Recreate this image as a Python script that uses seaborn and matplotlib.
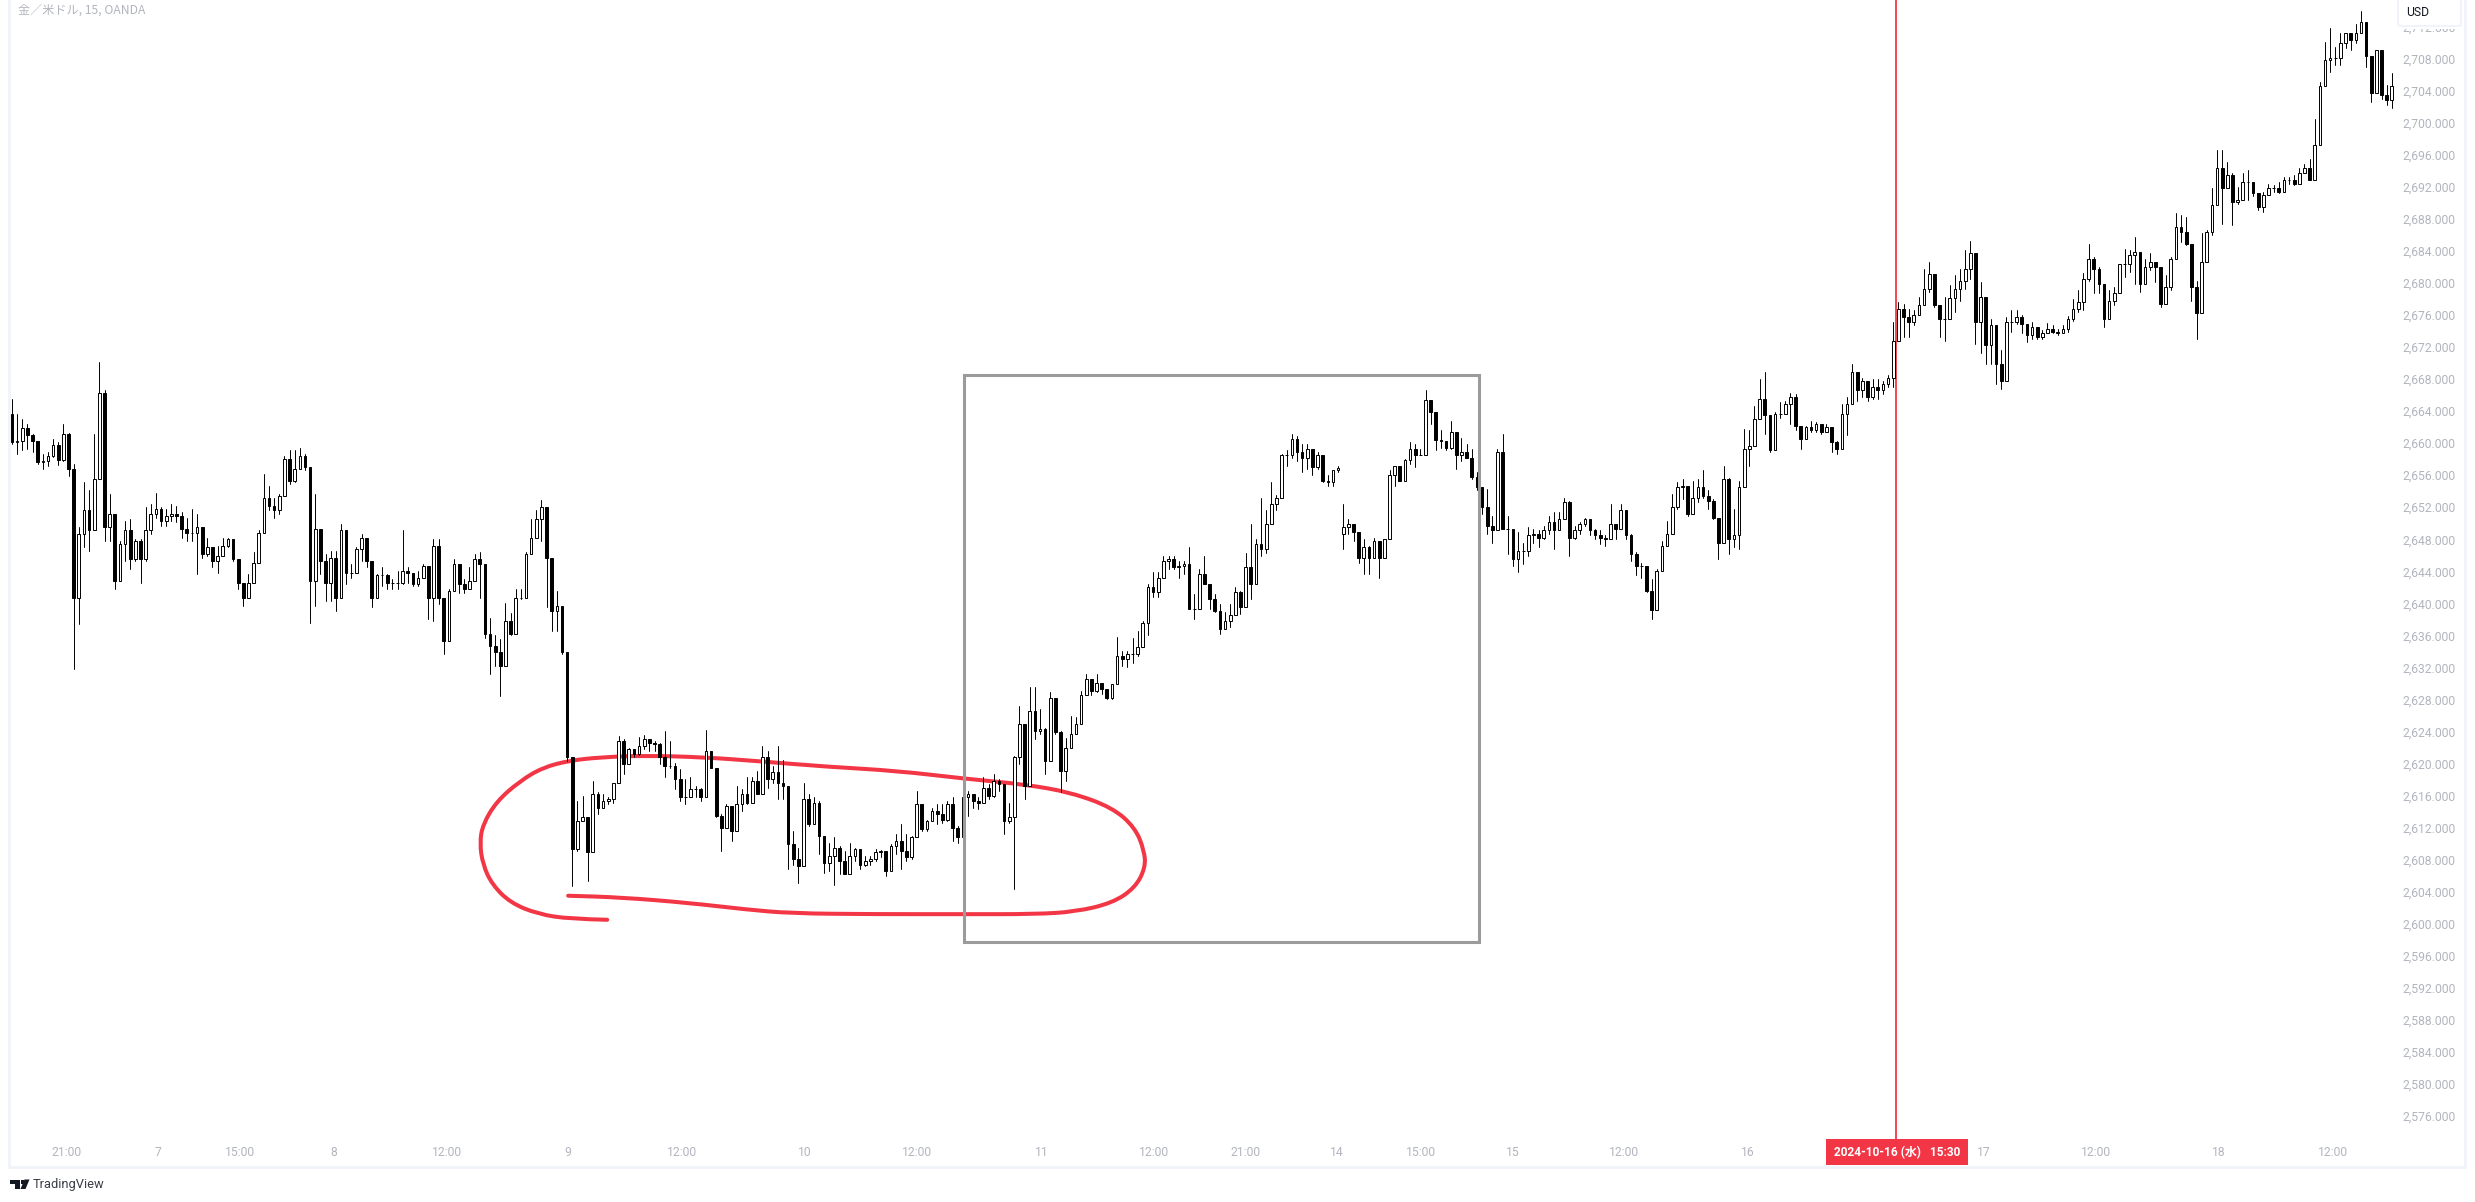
import numpy as np
import pandas as pd
import seaborn as sns
import matplotlib
matplotlib.use("Agg")
import matplotlib.pyplot as plt
from matplotlib.lines import Line2D
from matplotlib.patches import Rectangle, PathPatch, FancyBboxPatch, Polygon
from matplotlib.path import Path

# XAU/USD, sampled every 30 minutes. First session, Oct 6 to Oct 14.
first_open_week1 = 2663.7
close_week1 = [
    2660.1,2660.3,2661.9,2661.0,2660.3,2657.6,2657.8,2658.4,2659.8,2657.9,
    2661.2,2656.8,2640.7,2648.7,2651.6,2649.1,2655.5,2666.3,2649.5,2651.2,
    2642.8,2647.4,2649.1,2645.5,2647.8,2645.5,2649.1,2651.2,2651.8,2650.3,
    2650.9,2651.2,2650.9,2649.3,2648.8,2648.8,2649.5,2646.2,2647.0,2645.3,
    2645.9,2647.2,2648.0,2645.5,2642.6,2640.7,2642.6,2645.1,2648.8,2653.2,
    2652.2,2651.6,2653.4,2658.0,2655.3,2656.8,2658.4,2657.0,2642.8,2649.3,
    2645.3,2642.6,2645.7,2640.7,2649.1,2643.8,2643.8,2646.8,2648.2,2645.3,
    2640.7,2643.5,2643.5,2642.6,2642.6,2642.6,2644.1,2643.8,2642.4,2643.2,
    2644.7,2640.7,2647.2,2640.7,2635.3,2641.6,2644.9,2642.4,2641.8,2642.8,
    2645.5,2644.9,2636.2,2634.7,2633.9,2632.2,2637.8,2636.2,2640.7,2640.7,
    2646.2,2648.2,2650.5,2652.0,2645.7,2639.1,2639.7,2633.9,2620.8,2609.3,
    2612.8,2613.3,2608.9,2616.2,2614.5,2615.3,2615.6,2617.6,2622.8,2619.9,
    2621.8,2621.2,2622.2,2623.1,2622.6,2622.4,2620.8,2619.7,2619.7,2618.1,
    2615.8,2615.8,2616.8,2616.8,2615.8,2621.6,2619.5,2613.5,2612.0,2614.7,
    2611.6,2614.9,2616.2,2615.1,2617.8,2616.2,2620.8,2618.1,2618.9,2617.6,
    2617.2,2609.9,2608.1,2607.2,2615.6,2612.4,2615.1,2611.0,2607.6,2608.5,
    2609.5,2607.8,2606.2,2608.5,2609.3,2607.4,2607.8,2608.1,2608.9,2609.1,
    2606.6,2609.7,2610.3,2609.1,2608.3,2610.8,2614.9,2611.8,2612.8,2614.1,
    2613.7,2613.0,2614.9,2612.0,2610.8,2615.8,2616.2,2615.3,2615.1,2617.0,
    2616.0,2617.8,2617.4,2612.8,2613.3,2620.8,2624.9,2617.2,2626.6,2624.1,
    2624.3,2620.3,2628.2,2623.9,2619.1,2621.9,2623.7,2624.9,2628.5,2630.5,
    2629.1,2630.1,2629.3,2628.2,2629.9,2633.4,2633.0,2633.7,2633.7,2634.5,
    2637.6,2642.0,2641.4,2643.2,2645.3,2645.5,2644.5,2644.7,2644.9,2639.3,
    2639.3,2643.7,2642.4,2640.5,2639.1,2636.8,2637.8,2638.6,2641.4,2639.5,
    2644.6,2642.4,2647.4,2646.8,2649.9,2652.4,2653.2,2658.5,2658.5,2660.5,
    2658.9,2658.2,2659.3,2657.0,2658.5,2655.3,2655.1,2656.6,2656.9,
]
high_week1 = [
    2665.5,2663.7,2663.0,2662.4,2661.2,2660.1,2658.7,2658.9,2660.5,2660.1,
    2662.4,2661.3,2657.4,2649.5,2655.1,2654.1,2661.2,2670.1,2666.6,2653.7,
    2651.2,2647.8,2650.3,2650.5,2648.0,2648.0,2652.0,2652.4,2653.8,2652.0,
    2651.8,2652.4,2652.2,2651.4,2650.7,2651.8,2651.2,2648.2,2648.2,2646.6,
    2647.2,2648.2,2648.2,2647.8,2645.3,2642.6,2643.7,2646.4,2649.1,2656.1,
    2654.7,2653.2,2653.7,2658.4,2659.1,2659.1,2659.4,2658.7,2657.0,2653.7,
    2648.7,2646.2,2646.6,2646.6,2649.9,2646.6,2644.9,2647.0,2648.7,2647.8,
    2644.9,2643.7,2644.5,2643.7,2643.0,2644.1,2649.1,2644.5,2643.7,2644.1,
    2644.9,2643.7,2648.0,2648.0,2637.8,2641.8,2645.5,2643.7,2643.0,2644.5,
    2646.2,2646.4,2638.2,2638.2,2636.0,2635.5,2640.1,2638.8,2641.8,2641.8,
    2646.4,2650.5,2651.6,2652.9,2648.8,2642.8,2641.6,2639.7,2628.1,2620.8,
    2615.3,2616.0,2611.0,2617.8,2616.4,2616.2,2615.8,2617.6,2623.5,2623.1,
    2622.0,2621.8,2623.3,2623.6,2622.9,2622.8,2622.6,2624.1,2622.8,2620.1,
    2619.3,2618.1,2618.3,2617.2,2617.0,2624.2,2621.6,2617.2,2613.7,2614.9,
    2613.7,2617.2,2616.8,2618.3,2618.3,2619.1,2622.2,2621.6,2619.7,2622.2,
    2620.5,2615.8,2611.6,2609.5,2617.6,2616.2,2615.8,2615.3,2609.7,2610.1,
    2610.8,2609.7,2609.1,2610.1,2609.5,2608.1,2608.5,2608.5,2609.3,2609.2,
    2608.7,2609.9,2611.2,2612.4,2611.2,2611.0,2616.6,2614.5,2613.0,2614.5,
    2614.9,2614.9,2615.3,2615.8,2612.2,2616.8,2616.6,2616.2,2615.8,2618.3,
    2617.4,2618.7,2618.1,2617.4,2615.1,2621.0,2627.2,2623.1,2629.5,2629.5,
    2626.8,2624.5,2628.9,2627.2,2624.1,2623.2,2626.0,2625.8,2629.1,2631.2,
    2630.3,2631.2,2629.9,2628.9,2629.9,2635.8,2634.1,2634.1,2635.7,2636.6,
    2637.8,2642.4,2643.9,2643.9,2645.9,2645.9,2645.9,2645.3,2645.3,2647.0,
    2641.2,2644.3,2645.9,2641.6,2641.2,2639.9,2638.9,2639.9,2642.0,2641.6,
    2646.3,2649.9,2648.0,2653.2,2651.6,2655.1,2653.5,2658.7,2659.1,2661.2,
    2660.9,2659.9,2659.9,2657.8,2658.9,2657.0,2656.0,2656.6,2657.2,
]
low_week1 = [
    2659.9,2658.7,2659.1,2659.3,2658.9,2657.4,2656.8,2657.1,2658.3,2657.3,
    2657.8,2655.9,2631.8,2637.4,2647.0,2646.6,2649.1,2655.5,2647.8,2647.8,
    2641.8,2642.8,2645.3,2644.3,2645.3,2642.6,2645.3,2648.7,2650.7,2649.7,
    2649.7,2650.3,2650.1,2648.2,2647.8,2647.8,2643.7,2645.7,2645.9,2644.5,
    2643.8,2646.6,2647.0,2645.3,2641.8,2639.7,2640.9,2642.6,2645.1,2648.8,
    2651.6,2650.7,2651.2,2653.4,2654.9,2655.1,2656.8,2656.6,2637.6,2639.7,
    2643.7,2640.3,2640.3,2639.1,2640.7,2642.4,2643.2,2644.1,2645.3,2644.5,
    2639.5,2640.7,2642.2,2641.8,2641.8,2641.8,2642.4,2642.6,2642.2,2642.2,
    2643.5,2638.0,2637.8,2639.9,2633.7,2635.3,2641.6,2641.3,2641.3,2642.2,
    2642.8,2640.7,2635.7,2631.2,2632.2,2628.4,2635.5,2636.0,2637.4,2640.5,
    2641.8,2646.2,2648.2,2647.8,2639.5,2636.6,2636.6,2633.7,2620.3,2604.7,
    2609.1,2612.8,2605.3,2612.8,2613.7,2614.5,2614.9,2615.1,2618.3,2618.7,
    2619.9,2620.8,2621.1,2621.8,2621.6,2621.6,2619.9,2618.3,2619.5,2616.8,
    2615.3,2614.9,2615.8,2615.8,2615.3,2615.8,2619.4,2613.3,2609.1,2612.0,
    2610.3,2611.6,2614.1,2614.9,2616.2,2616.2,2616.2,2617.0,2617.6,2615.6,
    2615.6,2606.8,2607.4,2605.1,2609.5,2612.2,2614.1,2608.7,2606.4,2606.6,
    2604.9,2606.2,2606.2,2607.6,2607.8,2606.8,2607.2,2607.4,2607.8,2608.3,
    2606.0,2607.4,2608.7,2606.8,2607.8,2608.1,2610.8,2611.6,2611.6,2612.8,
    2612.4,2612.6,2612.8,2610.3,2610.1,2610.8,2613.5,2614.5,2614.3,2615.3,
    2615.6,2615.8,2616.6,2611.2,2612.6,2604.3,2619.9,2615.6,2617.2,2623.1,
    2623.7,2618.7,2620.3,2623.7,2616.4,2617.8,2622.4,2623.7,2624.9,2628.7,
    2628.5,2628.9,2628.7,2628.0,2628.0,2632.0,2632.2,2632.0,2632.6,2633.4,
    2635.1,2636.0,2640.8,2640.8,2643.2,2644.3,2644.3,2643.2,2643.7,2639.3,
    2638.0,2640.5,2642.4,2639.3,2638.9,2636.2,2636.8,2637.0,2639.3,2638.7,
    2640.3,2640.5,2643.0,2645.9,2646.3,2650.9,2651.6,2656.4,2657.2,2658.2,
    2657.8,2656.4,2656.8,2656.0,2656.8,2655.1,2654.7,2654.7,2656.4,
]

# Second session, Oct 14 to Oct 18.
first_open_week2 = 2648.7
close_week2 = [
    2649.5,2649.9,2648.9,2645.7,2647.0,2645.7,2647.8,2645.7,2648.0,2656.0,
    2657.1,2655.3,2657.9,2659.3,2658.5,2658.5,2665.4,2663.9,2660.4,2660.3,
    2659.4,2661.4,2658.5,2658.9,2658.2,2655.8,2654.5,2652.0,2649.7,2649.1,
    2658.9,2649.3,2649.3,2645.5,2646.6,2646.6,2648.5,2648.7,2648.2,2649.1,
    2650.1,2649.1,2650.5,2652.6,2648.2,2649.1,2649.9,2650.5,2649.1,2648.5,
    2648.2,2648.0,2649.9,2649.3,2651.6,2648.5,2646.2,2644.7,2644.7,2641.6,
    2639.2,2644.1,2647.2,2648.7,2652.0,2654.5,2654.7,2651.2,2653.2,2654.5,
    2653.4,2652.8,2650.7,2647.5,2655.5,2648.0,2648.5,2654.5,2659.3,2659.7,
    2663.0,2665.5,2663.5,2659.1,2663.7,2663.7,2664.9,2665.8,2662.2,2660.5,
    2662.0,2661.6,2662.4,2661.4,2662.0,2660.1,2659.3,2663.7,2664.9,2668.9,
    2666.6,2667.8,2665.8,2667.0,2666.6,2667.4,2668.2,2672.8,2676.8,2675.8,
    2675.1,2676.0,2677.2,2679.3,2681.1,2677.2,2675.5,2675.5,2678.1,2679.3,
    2680.3,2681.8,2683.7,2675.1,2678.3,2672.2,2674.7,2669.9,2667.8,2675.1,
    2675.1,2675.7,2674.9,2673.5,2674.5,2673.2,2673.7,2674.3,2673.9,2673.7,
    2674.3,2675.5,2676.8,2677.6,2680.5,2683.0,2681.8,2679.9,2675.5,2677.8,
    2678.7,2682.4,2682.4,2683.5,2683.9,2679.9,2682.0,2682.6,2682.0,2677.4,
    2679.5,2683.0,2687.0,2686.4,2684.9,2679.5,2676.2,2682.6,2686.4,2689.7,
    2694.3,2691.8,2693.5,2690.1,2690.3,2692.6,2692.6,2691.2,2689.5,2691.0,
    2691.8,2691.8,2691.4,2692.8,2692.8,2692.4,2693.7,2694.3,2692.8,2697.2,
    2704.6,2707.8,2708.1,2708.1,2709.9,2711.2,2710.3,2711.2,2712.6,2708.3,
    2703.7,2709.1,2703.5,2702.8,2704.6,
]
high_week2 = [
    2652.4,2650.5,2649.9,2648.2,2648.0,2647.2,2648.2,2647.8,2648.0,2656.6,
    2657.2,2656.4,2658.0,2660.1,2659.9,2659.3,2666.6,2665.1,2662.8,2661.6,
    2660.3,2662.8,2659.7,2660.7,2659.9,2659.3,2656.4,2654.3,2654.3,2650.9,
    2659.3,2661.1,2650.9,2649.1,2648.9,2647.6,2649.5,2649.3,2649.1,2649.7,
    2650.9,2651.4,2651.4,2653.2,2652.8,2649.7,2650.1,2650.7,2650.3,2649.3,
    2649.1,2648.5,2652.4,2649.9,2652.4,2651.6,2648.7,2646.4,2645.1,2644.3,
    2643.0,2644.3,2647.8,2650.3,2653.7,2655.1,2655.5,2654.1,2655.3,2655.5,
    2656.6,2654.1,2653.0,2650.3,2657.2,2655.7,2651.8,2655.3,2661.8,2661.6,
    2664.7,2668.0,2668.9,2661.6,2663.9,2665.1,2665.3,2666.3,2666.2,2662.2,
    2662.2,2662.8,2662.6,2662.2,2662.4,2662.0,2660.3,2664.9,2665.8,2669.9,
    2668.9,2668.2,2667.6,2668.0,2668.0,2667.8,2668.5,2675.1,2677.6,2677.4,
    2676.8,2676.6,2678.3,2681.8,2682.6,2680.1,2675.8,2678.3,2679.7,2681.0,
    2681.8,2684.1,2685.3,2681.0,2680.1,2675.1,2675.5,2672.4,2671.6,2675.7,
    2676.6,2676.6,2676.0,2674.9,2675.1,2674.1,2674.1,2675.0,2674.7,2674.3,
    2674.7,2675.9,2678.0,2679.1,2681.2,2684.9,2683.2,2682.0,2679.1,2679.1,
    2679.5,2682.4,2684.3,2684.1,2685.7,2683.2,2683.0,2683.7,2682.6,2680.7,
    2681.0,2683.2,2688.7,2688.5,2688.2,2684.9,2680.3,2686.2,2686.6,2691.8,
    2696.6,2696.6,2695.1,2693.7,2692.0,2693.7,2694.1,2691.8,2691.2,2691.4,
    2692.4,2692.2,2692.6,2693.2,2693.2,2693.5,2694.3,2694.9,2695.5,2700.5,
    2705.1,2710.1,2711.8,2709.5,2711.2,2711.2,2711.0,2712.3,2713.9,2711.4,
    2708.3,2709.1,2706.4,2704.7,2706.2,
]
low_week2 = [
    2646.8,2648.7,2647.8,2645.1,2643.7,2643.7,2645.7,2643.2,2645.7,2652.4,
    2654.7,2655.3,2656.2,2657.4,2657.0,2658.5,2658.5,2662.4,2659.1,2659.4,
    2659.1,2659.3,2656.8,2657.8,2658.1,2655.5,2654.1,2651.2,2648.7,2647.6,
    2652.6,2649.3,2646.2,2644.7,2643.9,2644.9,2645.9,2647.6,2647.0,2648.0,
    2648.7,2646.8,2649.9,2650.9,2645.9,2648.0,2648.7,2649.7,2648.5,2648.0,
    2647.4,2647.2,2648.0,2648.0,2649.7,2648.0,2645.3,2643.5,2643.2,2641.4,
    2638.0,2641.6,2644.9,2647.8,2649.3,2651.8,2653.0,2650.9,2652.8,2652.6,
    2653.2,2651.8,2650.5,2645.5,2647.5,2646.2,2647.0,2646.8,2657.0,2657.2,
    2661.1,2664.9,2661.1,2658.9,2660.3,2663.2,2663.9,2662.4,2661.6,2659.3,
    2660.8,2661.4,2661.4,2661.2,2661.4,2658.9,2658.7,2659.9,2661.0,2665.3,
    2665.3,2665.8,2665.3,2665.5,2665.5,2666.2,2667.0,2667.0,2675.1,2673.3,
    2673.3,2674.7,2677.0,2678.1,2678.9,2677.0,2673.3,2672.8,2677.6,2676.4,
    2677.8,2679.3,2680.5,2672.4,2671.2,2669.9,2669.9,2667.4,2666.8,2673.0,
    2673.9,2674.9,2673.7,2672.6,2673.0,2673.0,2673.0,2673.9,2673.7,2673.5,
    2673.9,2673.9,2675.3,2676.4,2676.6,2680.3,2678.7,2678.7,2674.5,2676.0,
    2677.2,2679.5,2680.7,2681.4,2679.9,2678.9,2679.9,2681.6,2680.1,2677.0,
    2679.1,2679.1,2685.5,2685.1,2684.7,2677.8,2673.0,2681.2,2682.8,2686.0,
    2691.6,2687.4,2692.0,2687.2,2689.9,2690.8,2690.3,2690.8,2689.1,2688.9,
    2691.4,2691.4,2691.2,2692.4,2692.4,2692.2,2693.5,2693.7,2692.8,2696.0,
    2702.8,2706.4,2706.4,2707.2,2707.2,2709.3,2709.1,2709.9,2711.2,2707.0,
    2702.6,2705.3,2703.0,2702.2,2701.8,
]

price_ticks = list(range(2576, 2713, 4))
time_labels = ["21:00", "7", "15:00", "8", "12:00", "9", "12:00", "10", "12:00", "11", "12:00",
               "21:00", "14", "15:00", "15", "12:00", "16", "17", "12:00", "18", "12:00"]
time_positions = [10.6, 28.4, 44.4, 62.5, 84.6, 108.2, 130.3, 154.3, 176.1, 200.4, 222.2,
                  240.0, 257.8, 274.1, 291.9, 313.7, 337.6, 383.7, 405.5, 429.4, 451.6]
cursor_bar = 366.6
cursor_label = "2024-10-16 (水)   15:30"

# Hand-drawn outline around the October 9-10 range, as (sample, price) pairs.
sketch_bar = [115.8, 108.6, 102.4, 97.0, 93.4, 91.6, 91.0, 91.6, 94.3, 98.8, 103.2, 108.6, 114.9, 122.9,
              134.5, 145.2, 158.7, 172.1, 185.5, 197.1, 206.0, 214.1, 218.5, 220.3, 220.5, 218.5, 214.1,
              206.9, 198.9, 185.5, 167.6, 151.5, 142.6, 131.8, 118.4, 108.2]
sketch_price = [2600.5, 2600.6, 2601.2, 2602.6, 2604.9, 2607.4, 2610.1, 2612.4, 2615.3, 2617.8, 2619.5,
                2620.4, 2620.8, 2621.0, 2620.8, 2620.3, 2619.6, 2619.1, 2618.1, 2617.4, 2616.4, 2614.5,
                2612.0, 2609.1, 2607.0, 2604.5, 2602.6, 2601.5, 2601.2, 2601.2, 2601.2, 2601.3, 2601.8,
                2602.6, 2603.3, 2603.5]
box_bars = (185.2, 285.4)
box_prices = (2597.7, 2668.46)

RED = "#f23645"
GREY_TEXT = "#b2b5be"
BORDER = "#f0f3fa"
W, H = 2475, 1202


def fx(px):
    return px / W


def fy(py):
    return 1 - py / H


sns.set_theme(style="white")
plt.rcParams["font.family"] = ["Roboto", "Noto Sans CJK JP", "DejaVu Sans"]

fig = plt.figure(figsize=(W / 100, H / 100), dpi=100, facecolor="white")
ax = fig.add_axes([fx(10), fy(1139), fx(2398 - 10), (1139 - 0) / H])
ax.set_facecolor("white")


def session(first_open, closes, highs, lows, start):
    opens = [first_open] + closes[:-1]
    return pd.DataFrame({"bar": np.arange(start, start + len(closes)),
                         "open": opens, "close": closes, "high": highs, "low": lows})


candles = pd.concat([
    session(first_open_week1, close_week1, high_week1, low_week1, 0),
    session(first_open_week2, close_week2, high_week2, low_week2, len(close_week1)),
], ignore_index=True)

# Wicks: one two-point line per candle.
wicks = candles.melt(id_vars="bar", value_vars=["low", "high"], value_name="price")
sns.lineplot(data=wicks, x="bar", y="price", units="bar", estimator=None, sort=False,
             color="black", linewidth=0.7, legend=False, ax=ax, zorder=4)

# Candle bodies: hollow when price rose, solid when it fell.
rising = candles["close"] >= candles["open"]
body_low = candles[["open", "close"]].min(axis=1)
body_size = (candles["close"] - candles["open"]).abs()
ax.bar(candles["bar"], body_size, bottom=body_low, width=0.52,
       color=np.where(rising, "white", "black"), edgecolor="black", linewidth=0.7, zorder=5)

# Freehand outline, smoothed through the midpoints of its control points.
pts = list(zip(sketch_bar, sketch_price))
verts = [pts[0]]
codes = [Path.MOVETO]
for a, b in zip(pts[1:-1], pts[2:]):
    verts += [a, ((a[0] + b[0]) / 2, (a[1] + b[1]) / 2)]
    codes += [Path.CURVE3, Path.CURVE3]
verts.append(pts[-1])
codes.append(Path.LINETO)
ax.add_patch(PathPatch(Path(verts, codes), facecolor="none", edgecolor=RED, linewidth=2.9,
                       capstyle="round", joinstyle="round", zorder=3))

ax.add_patch(Rectangle((box_bars[0], box_prices[0]), box_bars[1] - box_bars[0], box_prices[1] - box_prices[0],
                       facecolor="none", edgecolor="#9b9b9b", linewidth=2.2, zorder=6))

ax.axvline(cursor_bar, color=RED, linewidth=1.3, zorder=3)

ax.set_xlim(-0.39, 464.2)
ax.set_ylim(2573.13, 2715.33)
sns.despine(ax=ax, left=True, bottom=True, right=True, top=True)
ax.set_xlabel("")
ax.set_ylabel("")
ax.grid(False)

ax.yaxis.tick_right()
ax.set_yticks(price_ticks)
ax.set_yticklabels([f"{p:,.3f}" for p in price_ticks], fontsize=8.7, color=GREY_TEXT)
ax.set_xticks(time_positions)
ax.set_xticklabels(time_labels, fontsize=8.7, color=GREY_TEXT)
ax.tick_params(axis="y", length=0, pad=3)
ax.tick_params(axis="x", length=0, pad=5)

# Pane border.
for xs, ys in [((9, 9), (0, 1167)), ((9, 2465), (1167, 1167)), ((2465, 2465), (0, 1167))]:
    fig.add_artist(Line2D([fx(x) for x in xs], [fy(y) for y in ys], color=BORDER, linewidth=2.0, zorder=2))

# Cursor date tag on the time axis.
fig.add_artist(Rectangle((fx(1826), fy(1165)), fx(142), 26 / H, transform=fig.transFigure,
                         facecolor=RED, edgecolor="none", zorder=8))
fig.text(fx(1897), fy(1152.5), cursor_label, ha="center", va="center", color="white", fontsize=8.6,
         family=["Roboto", "Noto Sans CJK JP"], weight="bold", zorder=9)

# Currency button over the price scale, with a white margin that masks the topmost label.
fig.add_artist(Rectangle((fx(2396), fy(29)), fx(68), 29 / H, transform=fig.transFigure,
                         facecolor="white", edgecolor="none", zorder=7))
fig.add_artist(FancyBboxPatch((fx(2398), fy(26)), fx(63), 27 / H,
                              boxstyle="round,pad=0,rounding_size=0.002", mutation_aspect=H / W,
                              transform=fig.transFigure, facecolor="white", edgecolor=BORDER, linewidth=1.4, zorder=8))
fig.text(fx(2406), fy(12.5), "USD", ha="left", va="center", color="#131722", fontsize=8.7, zorder=9)

fig.text(fx(18), fy(10), "金／米ドル, 15, OANDA", ha="left", va="center", color=GREY_TEXT, fontsize=8.7,
         family=["Noto Sans CJK JP", "DejaVu Sans"], zorder=9)

# TradingView mark and wordmark.
ink = "#131722"
fig.add_artist(Polygon([(fx(10), fy(1179.5)), (fx(19.5), fy(1179.5)), (fx(19.5), fy(1189)), (fx(15), fy(1189)),
                        (fx(15), fy(1184)), (fx(10), fy(1184))], closed=True, transform=fig.transFigure,
                       facecolor=ink, edgecolor="none", zorder=9))
fig.add_artist(Polygon([(fx(24.5), fy(1179.5)), (fx(29.5), fy(1179.5)), (fx(25.5), fy(1189)), (fx(20.5), fy(1189))],
                       closed=True, transform=fig.transFigure, facecolor=ink, edgecolor="none", zorder=9))
fig.add_artist(Rectangle((fx(20.5), fy(1183.5)), fx(3.6), 3.6 / H, transform=fig.transFigure,
                         facecolor=ink, edgecolor="none", zorder=9))
fig.text(fx(33), fy(1184.5), "TradingView", ha="left", va="center", color="#3b3e47", fontsize=9.3, zorder=9)

fig.savefig("out.png", dpi=100, facecolor="white")
